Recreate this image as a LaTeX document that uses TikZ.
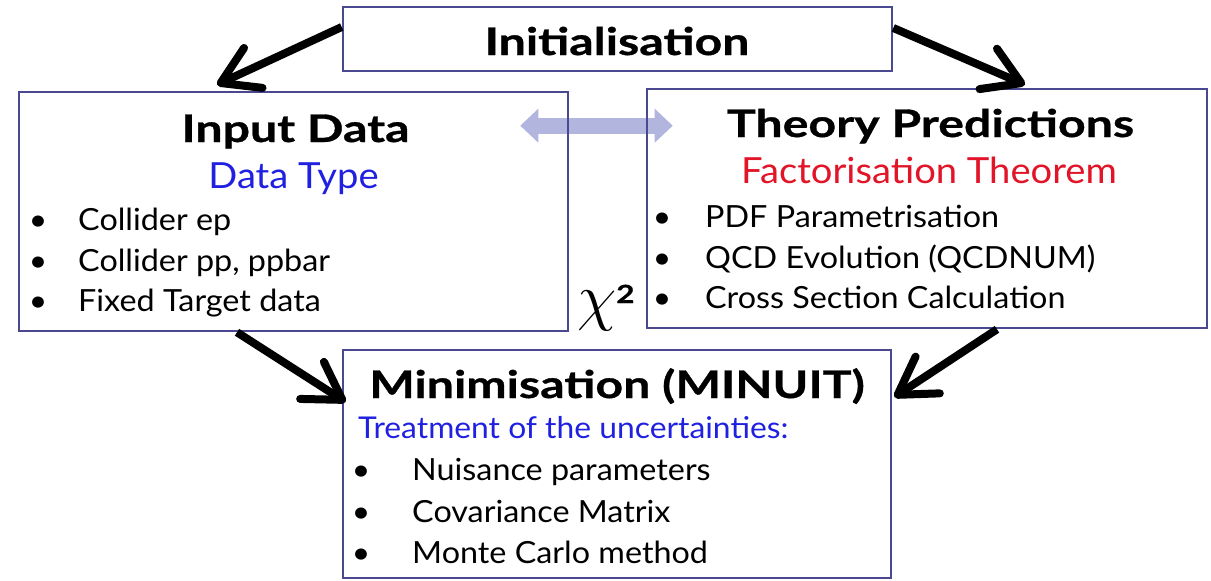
\documentclass[tikz,border=0pt]{standalone}
\usepackage{fix-cm}
\usepackage{fontspec}
\setmainfont{Lato}[FakeStretch=1.06]
\newfontfamily\headfont{Lato}[FakeStretch=1.27,FakeBold=0.8]
\usetikzlibrary{arrows.meta,calc,backgrounds}
\definecolor{boxline}{RGB}{74,72,145}
\definecolor{typeblue}{RGB}{32,32,225}
\definecolor{theoryred}{RGB}{225,20,40}
\definecolor{linkblue}{RGB}{178,182,222}
\begin{document}
\begin{tikzpicture}[x=1pt,y=-1pt,
  box/.style={draw=boxline, line width=2.6pt, inner sep=0pt},
  heading/.style={font=\headfont\fontsize{38}{38}\selectfont\bfseries, anchor=base, inner sep=0pt},
  subhead/.style={font=\fontsize{36}{36}\selectfont, anchor=base, inner sep=0pt},
  item/.style={font=\fontsize{30.5}{30.5}\selectfont, anchor=base west, inner sep=0pt},
  dot/.style={font=\fontsize{30}{30}\selectfont, anchor=base, inner sep=0pt},
  flow/.style={line width=8pt, -{Straight Barb[length=36pt,width=44pt,round]}},
  pairlink/.style={line width=16pt, linkblue,
    {Triangle[length=18pt,width=34pt,line width=0pt]}-{Triangle[length=18pt,width=34pt,line width=0pt]}}]
\useasboundingbox (0,0) rectangle (1211,581);

% boxes
\node[box, minimum width=549pt, minimum height=64pt]  (init)   at (617.5,39)  {};
\node[box, minimum width=549pt, minimum height=239pt] (input)  at (293.5,211.5) {};
\node[box, minimum width=560pt, minimum height=239pt] (theory) at (927,208.5) {};
\node[box, minimum width=548pt, minimum height=228pt] (minim)  at (617,464) {};

% link between data and theory
\begin{scope}[on background layer]
\draw[pairlink] ($(input.north east)+(-49,35)$) -- ($(theory.north west)+(27,38)$);
\end{scope}

% initialisation
\node[heading] (tinit) at (617,55) {Initialisation};

% input data
\node[heading] (tinput) at (295.5,142) {Input Data};
\node[subhead, text=typeblue] (tdtype) at (293.5,188) {Data Type};
\node[dot] (ib1) at (38,230) {•};
\node[item] (ii1) at (78,230) {Collider ep};
\node[dot] (ib2) at (38,271) {•};
\node[item] (ii2) at (78,271) {Collider pp, ppbar};
\node[dot] (ib3) at (38,311) {•};
\node[item] (ii3) at (78,311) {Fixed Target data};

% theory predictions
\node[heading] (ttheory) at (930.5,137) {Theory Predictions};
\node[subhead, text=theoryred] (tfact) at (929,183) {Factorisation Theorem};
\node[dot] (tb1) at (662,227) {•};
\node[item] (ti1) at (705,227) {PDF Parametrisation};
\node[dot] (tb2) at (662,268) {•};
\node[item] (ti2) at (705,268) {QCD Evolution (QCDNUM)};
\node[dot] (tb3) at (662,308) {•};
\node[item] (ti3) at (705,308) {Cross Section Calculation};

% minimisation
\node[heading] (tminim) at (617,398) {Minimisation (MINUIT)};
\node[item, font=\fontsize{30}{30}\selectfont, text=typeblue] (ttreat) at (358,438) {Treatment of the uncertainties:};
\node[dot] (mb1) at (361,480) {•};
\node[item] (mi1) at (412,480) {Nuisance parameters};
\node[dot] (mb2) at (361,522) {•};
\node[item] (mi2) at (412,522) {Covariance Matrix};
\node[dot] (mb3) at (361,563) {•};
\node[item] (mi3) at (412,563) {Monte Carlo method};

% chi-square label
\node[anchor=base, inner sep=0pt] (chi) at (606,318)
  {\fontsize{64}{64}\selectfont$\chi$\kern-0.5pt\raisebox{15pt}{\headfont\fontsize{25}{25}\selectfont\bfseries 2}};

% flow arrows
\draw[flow] ([yshift=12pt]init.west) -- ([xshift=-76.5pt,yshift=6pt]input.north);
\draw[flow] ([yshift=11pt]init.east) -- ([xshift=98pt,yshift=3pt]theory.north);
\draw[flow] ([xshift=-56.5pt]input.south) -- ([xshift=4pt,yshift=62pt]minim.west);
\draw[flow] ([xshift=70pt]theory.south) -- ([xshift=2pt,yshift=67pt]minim.east);
\end{tikzpicture}
\end{document}
